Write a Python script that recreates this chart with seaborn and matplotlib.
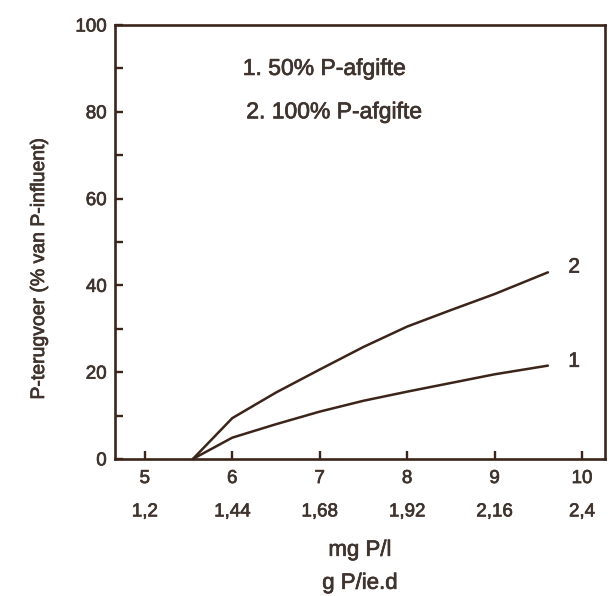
import matplotlib
matplotlib.use('Agg')
import matplotlib.pyplot as plt
import matplotlib.patheffects as pe
import seaborn as sns
import pandas as pd

sns.set_style('ticks')
plt.rcParams['font.family'] = ['Liberation Sans', 'DejaVu Sans']

INK = '#3b2419'
TXT = '#3f332d'
bold_fx = [pe.withStroke(linewidth=0.5, foreground=TXT)]

# curve values
x_50 = [5.55, 6.0, 6.5, 7.0, 7.5, 8.0, 8.5, 9.0, 9.61]
y_50 = [0.0, 4.9, 8.0, 10.9, 13.4, 15.5, 17.5, 19.5, 21.5]
x_100 = [5.55, 6.0, 6.5, 7.0, 7.5, 8.0, 8.5, 9.0, 9.61]
y_100 = [0.0, 9.4, 15.3, 20.6, 25.8, 30.5, 34.3, 38.0, 43.0]

x_ticks = [5, 6, 7, 8, 9, 10]
x_ticklabels = ['5', '6', '7', '8', '9', '10']
load_ticklabels = ['1,2', '1,44', '1,68', '1,92', '2,16', '2,4']
y_ticks = [0, 20, 40, 60, 80, 100]

legend_lines = ['1. 50% P-afgifte', '2. 100% P-afgifte']
curve_names = ['1', '2']

df = pd.concat([
    pd.DataFrame({'x': x_50, 'y': y_50, 'curve': '1'}),
    pd.DataFrame({'x': x_100, 'y': y_100, 'curve': '2'}),
])

fig = plt.figure(figsize=(6.09, 5.96), dpi=100)
ax = fig.add_axes([0.189, 0.230, 0.804, 0.728])

sns.lineplot(data=df, x='x', y='y', hue='curve', palette=[INK, INK],
             linewidth=1.8, legend=False, ax=ax, sort=False)

ax.set_xlim(4.66, 10.26)
ax.set_ylim(0, 100)
ax.set_xticks(x_ticks)
ax.set_xticklabels(x_ticklabels)
ax.set_yticks(y_ticks)
ax.set_yticks([10, 30, 50, 70, 90], minor=True)

for s in ax.spines.values():
    s.set_linewidth(1.9)
    s.set_color(INK)
ax.tick_params(axis='both', which='both', direction='in', color=INK,
               width=1.7, labelsize=13.5, labelcolor=TXT, pad=6)
ax.tick_params(axis='x', pad=8)
ax.tick_params(axis='both', which='major', length=6)
ax.tick_params(axis='y', which='minor', length=6)

# second row of x labels: load in g P/ie.d
sec = ax.secondary_xaxis('bottom', functions=(lambda v: v * 0.24, lambda v: v / 0.24))
sec.set_xticks([float(t.replace(',', '.')) for t in load_ticklabels])
sec.set_xticklabels(load_ticklabels)
sec.spines['bottom'].set_position(('outward', 25))
sec.spines['bottom'].set_visible(False)
sec.tick_params(axis='x', length=0, labelsize=13.5, labelcolor=TXT, pad=7)
sec.set_xlabel('mg P/l\ng P/ie.d', fontsize=16, color=TXT, linespacing=1.75, labelpad=14)

ax.set_xlabel('')
ax.set_ylabel('P-terugvoer (% van P-influent)', fontsize=14, color=TXT)
ax.yaxis.set_label_coords(-0.137, 0.44)

ax.text(6.12, 90, legend_lines[0], fontsize=16.5, color=TXT, va='center')
ax.text(6.16, 80, legend_lines[1], fontsize=16.5, color=TXT, va='center')

ax.text(9.91, y_100[-1] + 1.2, curve_names[1], fontsize=15, color=TXT, va='center', ha='center')
ax.text(9.91, y_50[-1] + 1.0, curve_names[0], fontsize=15, color=TXT, va='center', ha='center')

# the scanned original has slightly heavier lettering
for t in ax.get_xticklabels() + ax.get_yticklabels() + sec.get_xticklabels() + ax.texts + [ax.yaxis.label, sec.xaxis.label]:
    t.set_path_effects(bold_fx)

fig.savefig('out.png', dpi=100)
